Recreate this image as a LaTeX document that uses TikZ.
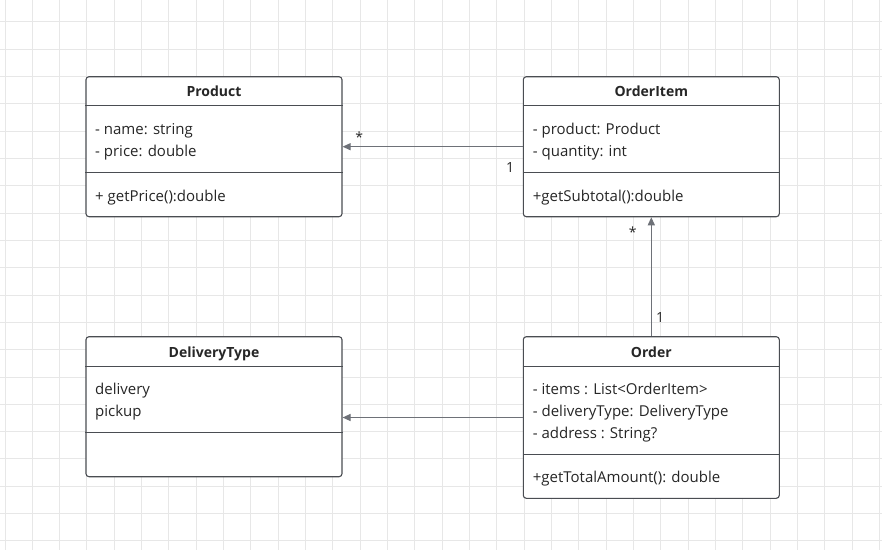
\documentclass[tikz,border=0pt]{standalone}
\usepackage{fontspec}
\setmainfont{Open Sans}
\usetikzlibrary{arrows.meta,calc}
\definecolor{gridc}{HTML}{E7E7E7}
\definecolor{txt}{HTML}{262626}
\definecolor{boxc}{HTML}{4A4D52}
\definecolor{linec}{HTML}{6E7178}
\tikzset{
  classbox/.style={draw=boxc, line width=1.1pt, fill=white, rounded corners=3pt, minimum width=256pt, inner sep=0pt},
  divider/.style={draw=boxc, line width=1.1pt},
  title/.style={font=\fontsize{14}{16}\selectfont\bfseries, text=txt, inner sep=0pt, anchor=mid},
  member/.style={font=\fontsize{15}{17}\selectfont, text=txt, inner sep=0pt, anchor=mid west},
  mult/.style={font=\fontsize{14}{16}\selectfont, text=txt, inner sep=0pt, anchor=mid},
  assoc/.style={draw=linec, line width=1.1pt, -{Triangle[length=8pt,width=7pt]}},
}
\begin{document}
\begin{tikzpicture}[x=1pt,y=-1pt]
\useasboundingbox (0,0) rectangle (882,550);
\fill[white] (0,0) rectangle (882,550);
% grid
\foreach \k in {0,...,32} {
  \draw[gridc, line width=1pt] ({5+27.33*\k},0) -- ({5+27.33*\k},550);
}
\foreach \k in {0,...,19} {
  \draw[gridc, line width=1pt] (0,{21.7+27.33*\k}) -- (882,{21.7+27.33*\k});
}

% Product
\node[classbox, minimum height=140pt] (product) at (214,146.7) {};
\draw[divider] ($(product.north west)+(0,29.3)$) -- ($(product.north east)+(0,29.3)$);
\draw[divider] ($(product.north west)+(0,96)$) -- ($(product.north east)+(0,96)$);
\node[title] (productT) at (214,94.2) {Product};
\node[member] (productA1) at (95,132.3) {- name: string};
\node[member] (productA2) at (95,153.7) {- price: double};
\node[member] (productM1) at (95,198.7) {+ getPrice():double};

% OrderItem
\node[classbox, minimum height=140pt] (orderitem) at (651.3,146.7) {};
\draw[divider] ($(orderitem.north west)+(0,29.3)$) -- ($(orderitem.north east)+(0,29.3)$);
\draw[divider] ($(orderitem.north west)+(0,96)$) -- ($(orderitem.north east)+(0,96)$);
\node[title] (orderitemT) at (651.3,94.2) {OrderItem};
\node[member] (orderitemA1) at (532.7,132.3) {- product: Product};
\node[member] (orderitemA2) at (532.7,153.7) {- quantity: int};
\node[member] (orderitemM1) at (532.7,198.7) {+getSubtotal():double};

% DeliveryType
\node[classbox, minimum height=140pt] (deliverytype) at (214,406.7) {};
\draw[divider] ($(deliverytype.north west)+(0,30)$) -- ($(deliverytype.north east)+(0,30)$);
\draw[divider] ($(deliverytype.north west)+(0,96)$) -- ($(deliverytype.north east)+(0,96)$);
\node[title] (deliverytypeT) at (214,354.8) {DeliveryType};
\node[member] (deliverytypeA1) at (95,392.3) {delivery};
\node[member] (deliverytypeA2) at (95,413.7) {pickup};

% Order
\node[classbox, minimum height=161.6pt] (order) at (651.3,417.5) {};
\draw[divider] ($(order.north west)+(0,30)$) -- ($(order.north east)+(0,30)$);
\draw[divider] ($(order.north west)+(0,118.3)$) -- ($(order.north east)+(0,118.3)$);
\node[title] (orderT) at (651.3,354.8) {Order};
\node[member] (orderA1) at (532.7,392.3) {- items : List<OrderItem>};
\node[member] (orderA2) at (532.7,413.7) {- deliveryType: DeliveryType};
\node[member] (orderA3) at (532.7,435.7) {- address : String?};
\node[member] (orderM1) at (532.7,479.7) {+getTotalAmount(): double};

% connectors
\draw[assoc] (orderitem.west) -- (product.east);
\draw[assoc] (order.north) -- (orderitem.south);
\draw[assoc] (order.west) -- (order.west -| deliverytype.east);

% multiplicities
\node[mult] (m1) at (359.3,139.5) {*};
\node[mult] (m2) at (510,169.7) {1};
\node[mult] (m3) at (632.7,235) {*};
\node[mult] (m4) at (660,319.7) {1};
\end{tikzpicture}
\end{document}
